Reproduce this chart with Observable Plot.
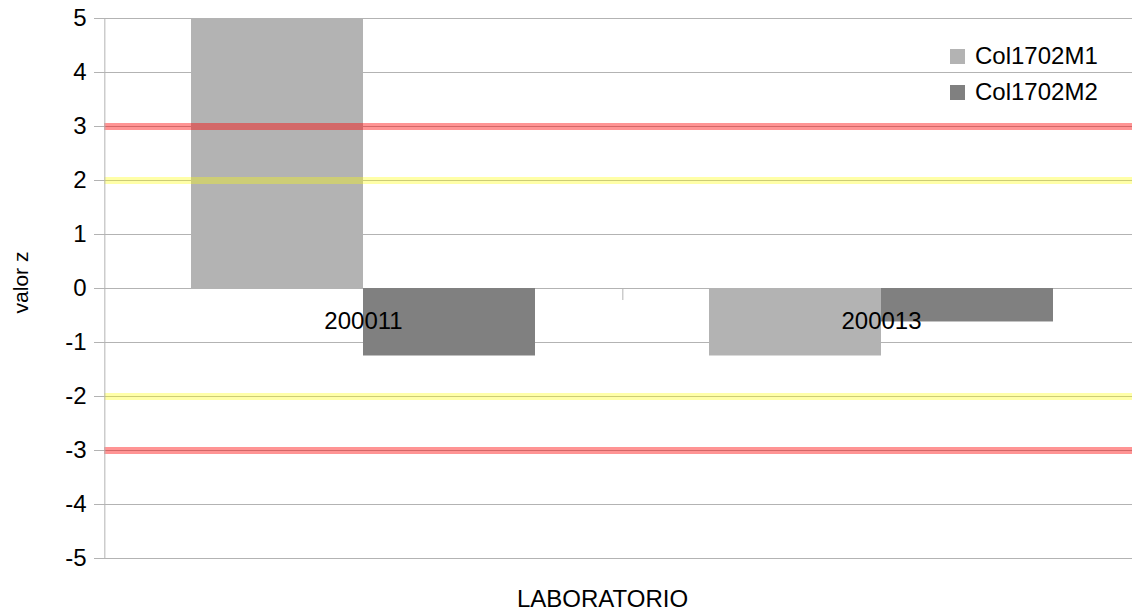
<!DOCTYPE html>
<html>
<head>
<meta charset="utf-8">
<script src="https://cdn.jsdelivr.net/npm/d3@7"></script>
<script src="https://cdn.jsdelivr.net/npm/@observablehq/plot@0.6"></script>
<style>
  body { margin: 0; background: #fff; font-family: "Liberation Sans", Arial, sans-serif; }
  #wrap { position: relative; width: 1132px; height: 612px; overflow: hidden; }
  .legend { position: absolute; left: 950px; top: 38px; font-size: 24px; color: #000; line-height: 36px; }
  .legend .item { display: flex; align-items: center; height: 36px; }
  .legend .sw { width: 15px; height: 15px; margin-right: 10px; }
</style>
</head>
<body>
<div id="wrap"></div>
<script>
// ---- data ----
const labs = ["200011", "200013"];
const seriesNames = ["Col1702M1", "Col1702M2"];
const valuesM1 = [5, -1.25];
const valuesM2 = [-1.25, -0.62];
const yTicks = [-5, -4, -3, -2, -1, 0, 1, 2, 3, 4, 5];
const redLimits = [3, -3];
const yellowLimits = [2, -2];
const seriesColors = ["#b3b3b3", "#808080"];
const yLabel = "valor z";
const xLabel = "LABORATORIO";

const rows = labs.flatMap((lab, i) => [
  { lab, series: seriesNames[0], value: valuesM1[i] },
  { lab, series: seriesNames[1], value: valuesM2[i] }
]);

// ---- layout ----
const W = 1132, H = 612, mL = 104, mR = -8, mT = 18, mB = 54;
const facetW = (W - mR - mL) / labs.length;
const step = facetW / 3;
const pxPerUnit = (H - mT - mB) / 10;
const font = "Liberation Sans, Arial, sans-serif";

const chart = Plot.plot({
  width: W, height: H,
  marginLeft: mL, marginRight: mR, marginTop: mT, marginBottom: mB,
  style: { fontFamily: font, fontSize: "24px", background: "white", color: "black", overflow: "visible" },
  fx: { domain: labs, padding: 0, axis: null },
  x: { domain: seriesNames, paddingInner: 0, paddingOuter: 0.5, axis: null },
  y: { domain: [-5, 5], axis: null },
  color: { domain: seriesNames, range: seriesColors },
  marks: [
    Plot.gridY(yTicks, { stroke: "#b3b3b3", strokeOpacity: 1 }),
    Plot.barY(rows, { fx: "lab", x: "series", y: "value", fill: "series" }),
    Plot.ruleY(yellowLimits, { stroke: "#ffff00", strokeOpacity: 0.34, strokeWidth: 7 }),
    Plot.ruleY(redLimits, { stroke: "#ff0000", strokeOpacity: 0.42, strokeWidth: 7 }),
    Plot.axisY(yTicks, { tickSize: 10, tickPadding: 8, stroke: "#b3b3b3", fill: "black", label: null, fontSize: 24, tickFormat: d => String(d) }),
    Plot.ruleX([labs[0]], { fx: d => d, x: () => seriesNames[0], dx: -step, y1: -5, y2: 5, stroke: "#b3b3b3" }),
    Plot.ruleX([labs[1]], { fx: d => d, x: () => seriesNames[0], dx: -step, y1: 0, y2: -12 / pxPerUnit, stroke: "#b3b3b3" }),
    Plot.text(labs, { fx: d => d, text: d => d, y: () => 0, dy: 33, fontSize: 24, fill: "black" }),
    Plot.text([yLabel], { facet: "super", frameAnchor: "left", rotate: -90, textAnchor: "middle", dx: -83, dy: -6, fontSize: 21, fill: "black" }),
    Plot.text([xLabel], { facet: "super", frameAnchor: "bottom", dx: -20, dy: 48, fontSize: 24, fill: "black" })
  ]
});

const wrap = document.getElementById("wrap");
wrap.appendChild(chart);

const legend = document.createElement("div");
legend.className = "legend";
seriesNames.forEach((name, i) => {
  const item = document.createElement("div");
  item.className = "item";
  const sw = document.createElement("span");
  sw.className = "sw";
  sw.style.background = seriesColors[i];
  const t = document.createElement("span");
  t.textContent = name;
  item.appendChild(sw);
  item.appendChild(t);
  legend.appendChild(item);
});
wrap.appendChild(legend);
</script>
</body>
</html>
